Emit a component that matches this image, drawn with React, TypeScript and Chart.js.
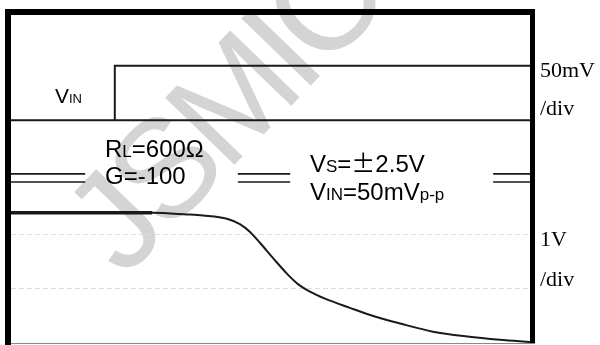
import React, { useEffect, useRef } from 'react';
import { Chart, registerables } from 'chart.js';

Chart.register(...registerables);

// Time axis in divisions, vertical axis in screen divisions
const xRange = [0, 10];
const yRange = [0, 6.07];
const gridLevels = [1, 2];

// VIN trace (step input)
const vinBaselineX = [0, 10];
const vinBaselineY = [4.12, 4.12];
const vinStepX = [2, 2, 10];
const vinStepY = [4.12, 5.13, 5.13];

// axis-break marks ("=") between the two traces
const breakUpperY = 3.13;
const breakLowerY = 2.98;
const breakSegments = [
  [0, 1.43],
  [4.37, 5.38],
  [9.29, 10],
];

// VOUT trace
const voutHoldX = [0, 2.72];
const voutHoldY = [2.41, 2.41];
const voutX = [0, 2.72, 3.39, 3.7, 4.16, 4.41, 4.6, 4.8, 5.05, 5.32, 5.53, 5.76, 6.05, 6.53, 7.01, 7.5, 8.13, 8.79, 9.42, 10];
const voutY = [2.41, 2.41, 2.38, 2.36, 2.3, 2.2, 2.06, 1.85, 1.57, 1.28, 1.09, 0.95, 0.82, 0.65, 0.49, 0.36, 0.21, 0.12, 0.06, 0.02];

// text
const vinScaleLabel = ['50mV', '/div'];
const voutScaleLabel = ['1V', '/div'];
const watermark = 'JSMICRO';

const SANS = '"Liberation Sans", Arial, sans-serif';
const SERIF = '"Liberation Serif", "Times New Roman", serif';
const CJK = '"Noto Sans CJK SC", sans-serif';

function pts(xs: number[], ys: number[]) {
  return xs.map((x, i) => ({ x, y: ys[i] }));
}

type Part = [string, number, string?];

function drawRich(ctx: CanvasRenderingContext2D, x: number, y: number, parts: Part[]) {
  let cx = x;
  for (const [t, size, fam] of parts) {
    ctx.font = `${size}px ${fam || SANS}`;
    ctx.fillText(t, cx, y);
    cx += ctx.measureText(t).width;
  }
}

const decorPlugin = {
  id: 'decor',
  beforeDraw(chart: any) {
    const ctx = chart.ctx as any;
    ctx.save();
    ctx.fillStyle = '#d4d4d4';
    ctx.font = `140px ${SANS}`;
    ctx.textBaseline = 'alphabetic';
    ctx.textAlign = 'left';
    try {
      ctx.letterSpacing = '-8px';
    } catch (e) {}
    ctx.translate(124, 279);
    ctx.rotate((-46 * Math.PI) / 180);
    ctx.fillText(watermark, 0, 0);
    ctx.restore();
  },
  afterDraw(chart: any) {
    const ctx = chart.ctx as CanvasRenderingContext2D;
    const ca = chart.chartArea;
    ctx.save();
    // frame
    ctx.fillStyle = '#000';
    ctx.fillRect(ca.left - 6, ca.top - 6, 6, chart.height - ca.top + 6);
    ctx.fillRect(ca.left - 6, ca.top - 6, ca.right - ca.left + 11, 6);
    ctx.fillRect(ca.right, ca.top - 6, 5, ca.bottom - ca.top + 6);
    ctx.fillStyle = '#8a8a8a';
    ctx.fillRect(ca.left, ca.bottom, ca.right - ca.left + 5, 1);

    // labels
    ctx.fillStyle = '#000';
    ctx.textBaseline = 'alphabetic';
    ctx.textAlign = 'left';
    drawRich(ctx, 55, 103, [['V', 21], ['IN', 13]]);
    drawRich(ctx, 105, 157, [['R', 24], ['L', 17], ['=600Ω', 24]]);
    drawRich(ctx, 105, 184, [['G=-100', 24]]);
    drawRich(ctx, 310, 172, [['V', 24], ['S', 17], ['=', 24], ['±', 24, CJK], ['2.5V', 24]]);
    drawRich(ctx, 310, 200, [['V', 24], ['IN', 17], ['=50mV', 24], ['p-p', 17]]);

    // right-hand scale labels
    ctx.font = `22px ${SERIF}`;
    const lx = ca.right + 10;
    ctx.fillText(vinScaleLabel[0], lx, 77);
    ctx.fillText(vinScaleLabel[1], lx, 115);
    ctx.fillText(voutScaleLabel[0], lx, 246);
    ctx.fillText(voutScaleLabel[1], lx, 286);
    ctx.restore();
  },
};

export default function App() {
  const ref = useRef<HTMLCanvasElement | null>(null);

  useEffect(() => {
    if (!ref.current) return;
    const line = (data: any[], width: number, extra: any = {}) => ({
      data,
      borderColor: '#1a1a1a',
      borderWidth: width,
      pointRadius: 0,
      fill: false,
      tension: 0,
      ...extra,
    });
    const datasets: any[] = [
      line(pts(vinBaselineX, vinBaselineY), 2),
      line(pts(vinStepX, vinStepY), 2),
      ...breakSegments.flatMap((s) => [
        line(pts(s, [breakUpperY, breakUpperY]), 1.6),
        line(pts(s, [breakLowerY, breakLowerY]), 1.6),
      ]),
      line(pts(voutX, voutY), 2, { cubicInterpolationMode: 'monotone' }),
      line(pts(voutHoldX, voutHoldY), 3.5),
    ];
    const chart = new Chart(ref.current, {
      type: 'line',
      data: { datasets },
      options: {
        animation: false,
        responsive: false,
        devicePixelRatio: 1,
        layout: { padding: { left: 11, top: 15, right: 70, bottom: 2 } },
        plugins: { legend: { display: false }, tooltip: { enabled: false } },
        scales: {
          x: {
            type: 'linear',
            min: xRange[0],
            max: xRange[1],
            grid: { display: false },
            ticks: { display: false },
            border: { display: false },
            afterFit: (s: any) => {
              s.height = 0;
            },
          },
          y: {
            type: 'linear',
            min: yRange[0],
            max: yRange[1],
            afterBuildTicks: (s: any) => {
              s.ticks = gridLevels.map((v) => ({ value: v }));
            },
            grid: { color: '#dedede', lineWidth: 1, drawTicks: false },
            ticks: { display: false },
            border: { display: false, dash: [5, 3] },
            afterFit: (s: any) => {
              s.width = 0;
            },
          },
        },
      },
      plugins: [decorPlugin],
    });
    return () => chart.destroy();
  }, []);

  return (
    <div style={{ position: 'absolute', left: 0, top: 0, width: 600, height: 345, background: '#fff' }}>
      <canvas ref={ref} width={600} height={345} />
    </div>
  );
}
